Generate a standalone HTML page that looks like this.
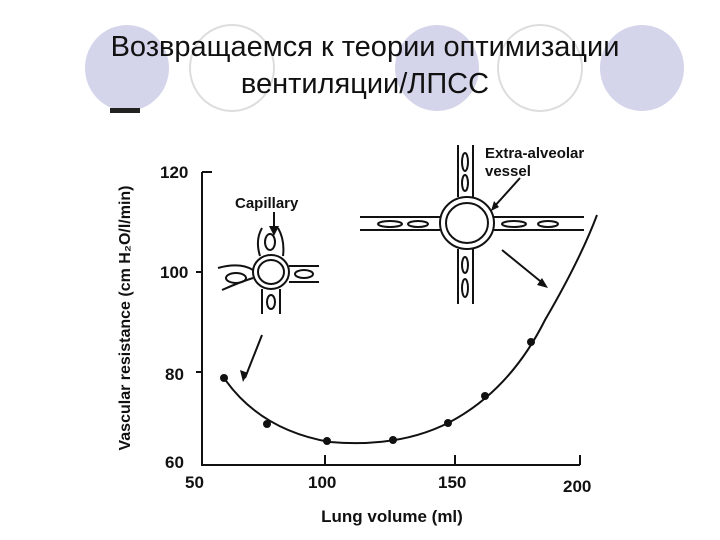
<!DOCTYPE html>
<html><head><meta charset="utf-8"><style>body{margin:0;background:#fff}svg{display:block}</style></head><body>
<svg width="720" height="540" viewBox="0 0 720 540" xmlns="http://www.w3.org/2000/svg" font-family="Liberation Sans, sans-serif">
<g>
<ellipse cx="127" cy="68" rx="42" ry="43" fill="#d4d4ea"/>
<ellipse cx="232" cy="68" rx="42" ry="43" fill="none" stroke="#ddd" stroke-width="2"/>
<ellipse cx="437" cy="68" rx="42" ry="43" fill="#d4d4ea"/>
<ellipse cx="540" cy="68" rx="42" ry="43" fill="none" stroke="#ddd" stroke-width="2"/>
<ellipse cx="642" cy="68" rx="42" ry="43" fill="#d4d4ea"/>
<rect x="110" y="108" width="30" height="5" fill="#222"/>
</g>
<text x="365" y="56" font-size="29" text-anchor="middle" fill="#111">Возвращаемся к теории оптимизации</text>
<text x="365" y="93" font-size="29" text-anchor="middle" fill="#111">вентиляции/ЛПСС</text>
<g stroke="#111" stroke-width="2" fill="none">
<path d="M202 172 V465 H580"/>
<path d="M202 172 h10 M202 272 h-6 M202 372 h-6 M325 465 v-10 M455 465 v-10 M580 465 v-10"/>
<path d="M224 378 Q260 430 330 442 Q400 448 450 422 Q510 390 545 320 Q580 260 597 215"/>
</g>
<g fill="#111">
<circle cx="224" cy="378" r="4"/><circle cx="267" cy="424" r="4"/><circle cx="327" cy="441" r="4"/>
<circle cx="393" cy="440" r="4"/><circle cx="448" cy="423" r="4"/><circle cx="485" cy="396" r="4"/><circle cx="531" cy="342" r="4"/>
</g>
<g font-size="17" font-weight="bold" fill="#111">
<text x="160" y="178">120</text><text x="160" y="278">100</text><text x="165" y="380">80</text><text x="165" y="468">60</text>
<text x="185" y="488">50</text><text x="308" y="488">100</text><text x="438" y="488">150</text><text x="563" y="492">200</text>
<text x="392" y="522" text-anchor="middle">Lung volume (ml)</text>
<text transform="translate(130 318) rotate(-90)" text-anchor="middle" font-size="16">Vascular resistance (cm H₂O/l/min)</text>
<text x="235" y="208" font-size="15">Capillary</text>
<text x="485" y="158" font-size="15">Extra-alveolar</text>
<text x="485" y="176" font-size="15">vessel</text>
</g>
<g stroke="#111" stroke-width="2" fill="none">
<!-- capillary -->
<ellipse cx="271" cy="272" rx="18" ry="17"/><ellipse cx="271" cy="272" rx="13" ry="12"/>
<path d="M218 268 Q240 262 253 270 M222 290 Q240 282 253 278 M289 266 h30 M289 282 h30"/>
<path d="M260 256 Q255 240 262 228 M283 256 Q285 240 278 228 M262 289 v25 M280 289 v25"/>
<ellipse cx="236" cy="278" rx="10" ry="5"/><ellipse cx="304" cy="274" rx="9" ry="4"/><ellipse cx="270" cy="242" rx="5" ry="8"/><ellipse cx="271" cy="302" rx="4" ry="7"/>
<path d="M274 212 v22"/>
<!-- extra-alveolar -->
<ellipse cx="467" cy="223" rx="27" ry="26"/><ellipse cx="467" cy="223" rx="21" ry="20"/>
<path d="M360 217 h80 M360 230 h80 M494 217 h90 M494 230 h90 M458 145 v52 M473 145 v52 M458 249 v55 M473 249 v55"/>
<ellipse cx="390" cy="224" rx="12" ry="3"/><ellipse cx="418" cy="224" rx="10" ry="3"/><ellipse cx="514" cy="224" rx="12" ry="3"/><ellipse cx="548" cy="224" rx="10" ry="3"/>
<ellipse cx="465" cy="162" rx="3" ry="9"/><ellipse cx="465" cy="183" rx="3" ry="8"/><ellipse cx="465" cy="265" rx="3" ry="8"/><ellipse cx="465" cy="288" rx="3" ry="9"/>
<path d="M520 178 L493 208"/>
<path d="M502 250 L545 285"/>
<path d="M262 335 L245 378"/>
</g>
<g fill="#111">
<path d="M274 236 l-5 -10 h10z"/>
<path d="M491 211 l3 -10 l5 6z"/>
<path d="M548 288 l-11 -3 l5 -7z"/>
<path d="M243 382 l-3 -12 l8 3z"/>
</g>
</svg>
</body></html>
